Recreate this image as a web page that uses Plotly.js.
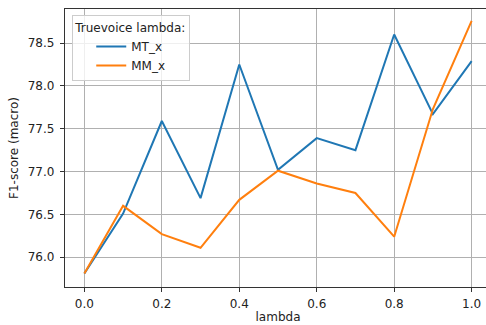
<!DOCTYPE html>
<html>
<head>
<meta charset="utf-8">
<script src="https://cdn.plot.ly/plotly-3.0.1.min.js"></script>
<style>
html,body{margin:0;padding:0;overflow:hidden;background:#fff;}
#chart{width:491px;height:325px;}
</style>
</head>
<body>
<div id="chart"></div>
<script>
const lambdas = [0.0, 0.1, 0.2, 0.3, 0.4, 0.5, 0.6, 0.7, 0.8, 0.9, 1.0];
const mtX = [75.81, 76.51, 77.59, 76.69, 78.25, 77.02, 77.39, 77.25, 78.60, 77.67, 78.29];
const mmX = [75.81, 76.60, 76.27, 76.11, 76.67, 77.01, 76.86, 76.75, 76.24, 77.73, 78.76];
const seriesNames = ['MT_x', 'MM_x'];
const xTicks = [0.0, 0.2, 0.4, 0.6, 0.8, 1.0];
const xTickLabels = ['0.0', '0.2', '0.4', '0.6', '0.8', '1.0'];
const yTicks = [76.0, 76.5, 77.0, 77.5, 78.0, 78.5];
const yTickLabels = ['76.0', '76.5', '77.0', '77.5', '78.0', '78.5'];

const font = {family: 'DejaVu Sans', size: 12, color: '#222222'};

const traces = [
  {x: lambdas, y: mtX, name: seriesNames[0], type: 'scatter', mode: 'lines',
   line: {color: '#1f77b4', width: 2}},
  {x: lambdas, y: mmX, name: seriesNames[1], type: 'scatter', mode: 'lines',
   line: {color: '#ff7f0e', width: 2}}
];

const layout = {
  width: 491, height: 325,
  margin: {l: 65, r: 0, t: 9, b: 38, pad: 0},
  paper_bgcolor: '#fff', plot_bgcolor: '#fff',
  font: font,
  showlegend: true,
  legend: {
    x: 0.017, y: 0.977, xanchor: 'left', yanchor: 'top',
    bgcolor: 'rgba(255,255,255,0.8)', bordercolor: '#cccccc', borderwidth: 1,
    title: {text: 'Truevoice lambda:', font: font, side: 'top'},
    font: font, indentation: 18, tracegroupgap: 0
  },
  xaxis: {
    range: [-0.05, 1.05], tickvals: xTicks, ticktext: xTickLabels,
    showgrid: true, gridcolor: '#b0b0b0', gridwidth: 1,
    showline: true, linecolor: '#333', linewidth: 1.2, mirror: true,
    ticks: 'outside', ticklen: 4, tickcolor: '#333', tickwidth: 1,
    ticklabelstandoff: 1,
    zeroline: false, tickfont: font,
    title: {text: 'lambda', font: font, standoff: 3}
  },
  yaxis: {
    range: [75.6525, 78.8975], tickvals: yTicks, ticktext: yTickLabels,
    showgrid: true, gridcolor: '#b0b0b0', gridwidth: 1,
    showline: true, linecolor: '#333', linewidth: 1.2, mirror: true,
    ticks: 'outside', ticklen: 4, tickcolor: '#333', tickwidth: 1,
    ticklabelstandoff: 3,
    zeroline: false, tickfont: font,
    title: {text: 'F1-score (macro)', font: font, standoff: 6}
  }
};

Plotly.newPlot('chart', traces, layout, {displayModeBar: false, staticPlot: true});
</script>
</body>
</html>
